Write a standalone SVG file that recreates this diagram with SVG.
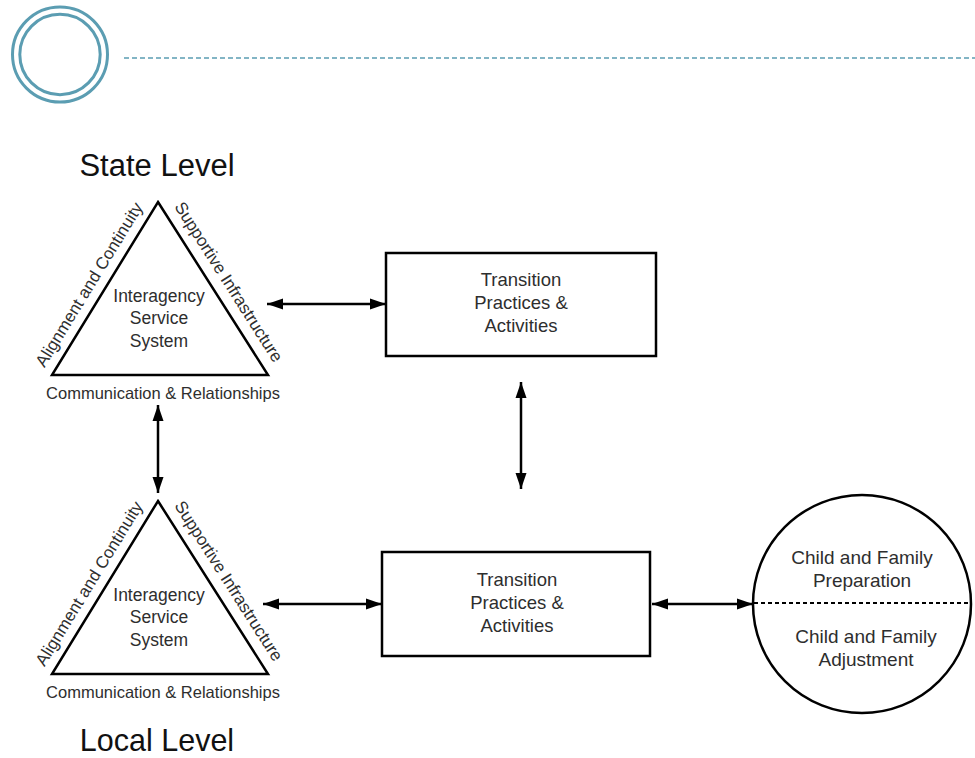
<svg xmlns="http://www.w3.org/2000/svg" width="975" height="758" viewBox="0 0 975 758">
<defs>
<style>
.t{font-family:"Liberation Sans",Arial,sans-serif;fill:#2e2e2e;text-anchor:middle}
.m{font-size:17.5px}
.b{font-size:18.5px}
.c{font-size:19px}
.s{font-size:17px}
.r{font-size:16.5px}
.h{font-family:"Liberation Sans",Arial,sans-serif;fill:#111;font-size:31px;text-anchor:middle}
.shape{fill:#fff;stroke:#000;stroke-width:2.5}
.con{stroke:#000;stroke-width:2.5;fill:none;marker-start:url(#ah);marker-end:url(#ah)}
.deco{fill:none;stroke:#5b9db2;stroke-width:3}
</style>
<marker id="ah" markerUnits="userSpaceOnUse" markerWidth="16" markerHeight="12" refX="16" refY="5.5" orient="auto-start-reverse" viewBox="0 0 16 11">
<path d="M0,0 L16,5.5 L0,11 Z" fill="#000"/>
</marker>
</defs>
<rect width="975" height="758" fill="#fff"/>
<g id="header">
<circle class="deco" cx="60" cy="54.5" r="47.5"/>
<circle class="deco" cx="60" cy="54.5" r="40.2"/>
<line x1="124" y1="58" x2="975" y2="58" stroke="#5b9db2" stroke-width="1.6" stroke-dasharray="5,3"/>
</g>
<g id="state-label"><text class="h" x="157" y="176">State Level</text></g>
<g id="local-label"><text class="h" x="157" y="751" style="font-size:30.5px">Local Level</text></g>
<g id="state-triangle">
<polygon class="shape" points="158,202 268,375 52,375"/>
<text class="t m" x="159" y="302">Interagency</text>
<text class="t m" x="159" y="324">Service</text>
<text class="t m" x="159" y="347">System</text>
<text class="t s" transform="translate(94,287.6) rotate(-58.5)">Alignment and Continuity</text>
<text class="t s" transform="translate(223.9,285.1) rotate(57.5)">Supportive Infrastructure</text>
<text class="t r" x="163" y="399">Communication &amp; Relationships</text>
</g>
<g id="local-triangle">
<polygon class="shape" points="158,501 268,674 52,674"/>
<text class="t m" x="159" y="601">Interagency</text>
<text class="t m" x="159" y="623">Service</text>
<text class="t m" x="159" y="646">System</text>
<text class="t s" transform="translate(94,586.6) rotate(-58.5)">Alignment and Continuity</text>
<text class="t s" transform="translate(223.9,584.1) rotate(57.5)">Supportive Infrastructure</text>
<text class="t r" x="163" y="698">Communication &amp; Relationships</text>
</g>
<g id="state-box">
<rect class="shape" x="386" y="253" width="270" height="103"/>
<text class="t b" x="521" y="286">Transition</text>
<text class="t b" x="521" y="309">Practices &amp;</text>
<text class="t b" x="521" y="332">Activities</text>
</g>
<g id="local-box">
<rect class="shape" x="382" y="552" width="268" height="104"/>
<text class="t b" x="517" y="586">Transition</text>
<text class="t b" x="517" y="609">Practices &amp;</text>
<text class="t b" x="517" y="632">Activities</text>
</g>
<g id="child-family">
<circle class="shape" cx="862" cy="604" r="109"/>
<line x1="754" y1="603" x2="970" y2="603" stroke="#000" stroke-width="2.2" stroke-dasharray="4,3"/>
<text class="t c" x="862" y="564">Child and Family</text>
<text class="t c" x="862" y="587">Preparation</text>
<text class="t c" x="866" y="643">Child and Family</text>
<text class="t c" x="866" y="666">Adjustment</text>
</g>
<g id="connectors">
<line class="con" x1="267" y1="304" x2="386" y2="304"/>
<line class="con" x1="521" y1="382" x2="521" y2="489"/>
<line class="con" x1="158" y1="405" x2="158" y2="493"/>
<line class="con" x1="263" y1="604" x2="382" y2="604"/>
<line class="con" x1="652" y1="604" x2="753" y2="604"/>
</g>
</svg>
